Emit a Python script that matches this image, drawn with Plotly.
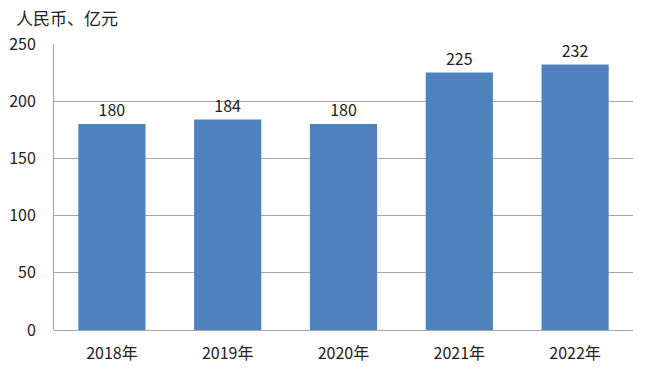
import plotly.graph_objects as go

categories = ["2018年", "2019年", "2020年", "2021年", "2022年"]
values = [180, 184, 180, 225, 232]
y_ticks = [0, 50, 100, 150, 200, 250]
unit_label = "人民币、亿元"

font_family = "Noto Sans CJK SC, Open Sans, sans-serif"

fig = go.Figure(go.Bar(
    x=categories, y=values,
    marker=dict(color="#4F81BD", line=dict(width=0)),
    width=0.58,
    text=[str(v) for v in values],
    textposition="outside",
    textfont=dict(size=16, color="#222222", family=font_family),
    cliponaxis=False,
))

fig.update_layout(
    width=653, height=373,
    margin=dict(l=54, r=20, t=44, b=43),
    paper_bgcolor="white", plot_bgcolor="white",
    showlegend=False,
    font=dict(family=font_family, size=16, color="#222222"),
    xaxis=dict(showgrid=False, showline=False, ticks="", tickfont=dict(size=16),
               ticklabelstandoff=12, automargin=False),
    yaxis=dict(range=[0, 250], tickvals=y_ticks, showgrid=True, gridcolor="#A6A6A6",
               gridwidth=1, showline=True, linecolor="#A6A6A6", linewidth=1,
               zeroline=True, zerolinecolor="#A6A6A6", zerolinewidth=1,
               ticks="", ticklabelstandoff=14, tickfont=dict(size=16), automargin=False),
    annotations=[dict(text=unit_label, x=(14 - 54) / (653 - 54 - 20),
                      y=(373 - 43 - 17) / (373 - 44 - 43), xref="paper", yref="paper",
                      xanchor="left", yanchor="middle", showarrow=False,
                      font=dict(size=17, color="#222222"))],
)

fig.write_html("out.html")
